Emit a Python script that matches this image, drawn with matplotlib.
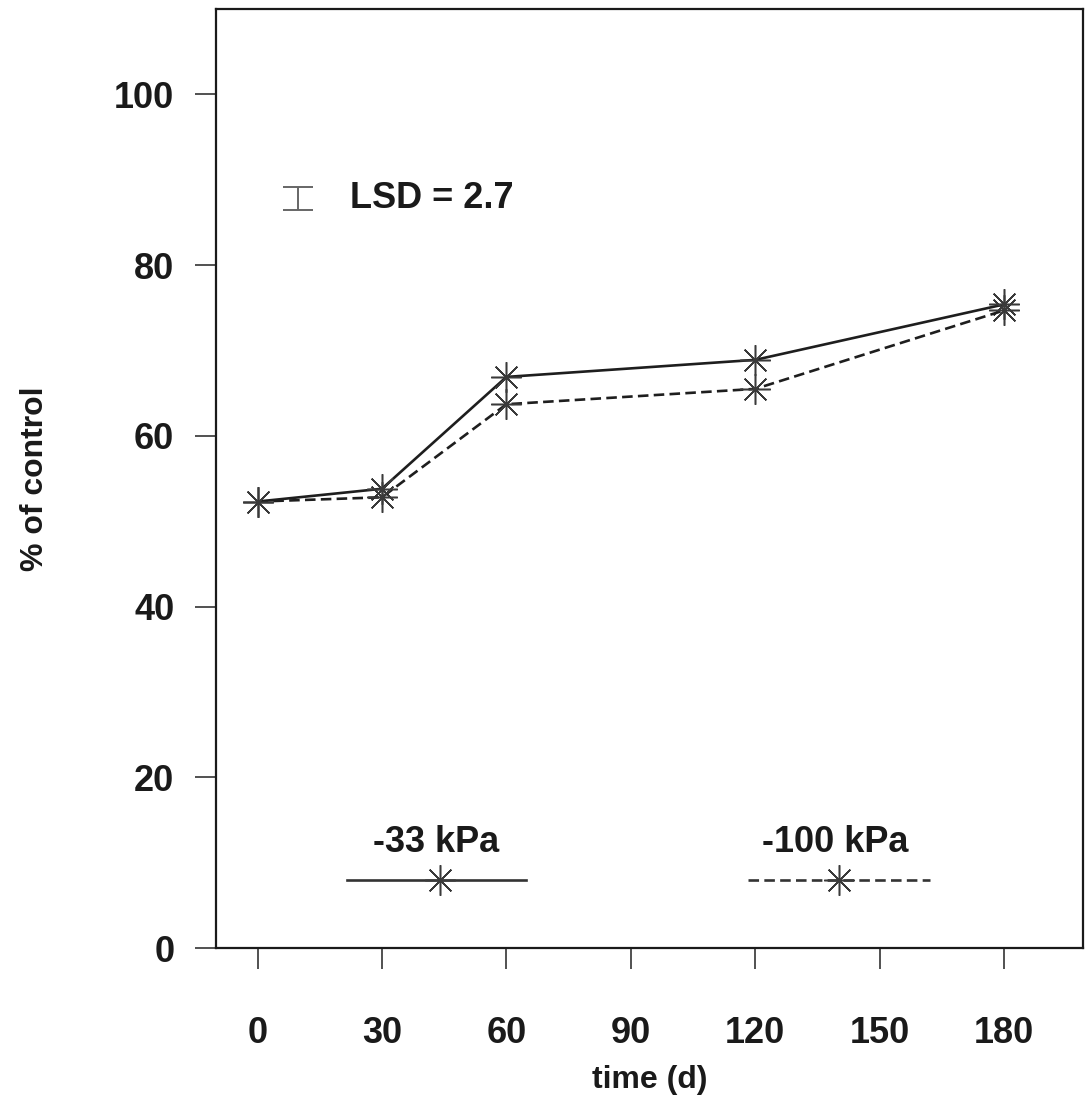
import matplotlib
matplotlib.use("Agg")
import matplotlib.pyplot as plt
from matplotlib.lines import Line2D

# ---- data ----
time_d = [0, 30, 60, 120, 180]
kpa33 = [52.3, 53.8, 66.9, 68.9, 75.4]
kpa100 = [52.3, 52.8, 63.7, 65.5, 74.7]
series_labels = ["-33 kPa", "-100 kPa"]
lsd_value = 2.7
x_ticks = [0, 30, 60, 90, 120, 150, 180]
y_ticks = [0, 20, 40, 60, 80, 100]

plt.rcParams['font.family'] = ['Liberation Sans', 'DejaVu Sans']

fig = plt.figure(figsize=(10.85, 10.97), dpi=100)
ax = fig.add_axes([0.1991, 0.1358, 0.7991, 0.8560])

line_col = "#1e1e1e"
mk_col = "#3a3a3a"
asterisk = (8, 2, 0)
msize = 22

ax.plot(time_d, kpa33, color=line_col, lw=1.9, ls='-',
        marker=asterisk, ms=msize, mec=mk_col, mew=1.1)
ax.plot(time_d, kpa100, color=line_col, lw=1.9, ls=(0, (4, 2)),
        marker=asterisk, ms=msize, mec=mk_col, mew=1.1)

ax.set_xlim(-10, 199)
ax.set_ylim(0, 110)
ax.set_xticks(x_ticks)
ax.set_yticks(y_ticks)
ax.tick_params(axis='both', direction='out', length=15, width=1.1,
               color='#222222', labelsize=26)
ax.tick_params(axis='x', pad=34)
ax.tick_params(axis='y', pad=15)
for lab in ax.get_xticklabels() + ax.get_yticklabels():
    lab.set_fontweight('bold')
    lab.set_color('#1a1a1a')
for s in ax.spines.values():
    s.set_linewidth(1.6)
    s.set_color('#1a1a1a')

ax.set_xlabel("time (d)", fontsize=23, fontweight='bold', color='#1a1a1a', labelpad=10)
ax.set_ylabel("% of control", fontsize=23, fontweight='bold', color='#1a1a1a', labelpad=46)

# LSD bar
ax.errorbar([9.7], [87.8], yerr=[lsd_value / 2], fmt='none', ecolor='#666666',
            elinewidth=1.4, capsize=10.8, capthick=1.4)
ax.text(22.2, 87.8, f"LSD = {lsd_value}", fontsize=26, fontweight='bold',
        color='#1a1a1a', va='center', ha='left')

# custom legend (text above line sample)
leg_specs = [
    (series_labels[0], '-', 0.151, 0.358, 0.258, 0.254),
    (series_labels[1], (0, (4, 2)), 0.613, 0.824, 0.718, 0.714),
]
for lab, ls, x0, x1, xm, xt in leg_specs:
    ax.add_line(Line2D([x0, x1], [0.0727, 0.0727], transform=ax.transAxes,
                       color='#333333', lw=1.9, ls=ls))
    ax.add_line(Line2D([xm], [0.0727], transform=ax.transAxes, ls='none',
                       marker=asterisk, ms=msize, mec=mk_col, mew=1.1))
    ax.text(xt, 0.112, lab, transform=ax.transAxes, fontsize=26,
            fontweight='bold', color='#1a1a1a', ha='center', va='center')

fig.savefig("out.png", dpi=100)
